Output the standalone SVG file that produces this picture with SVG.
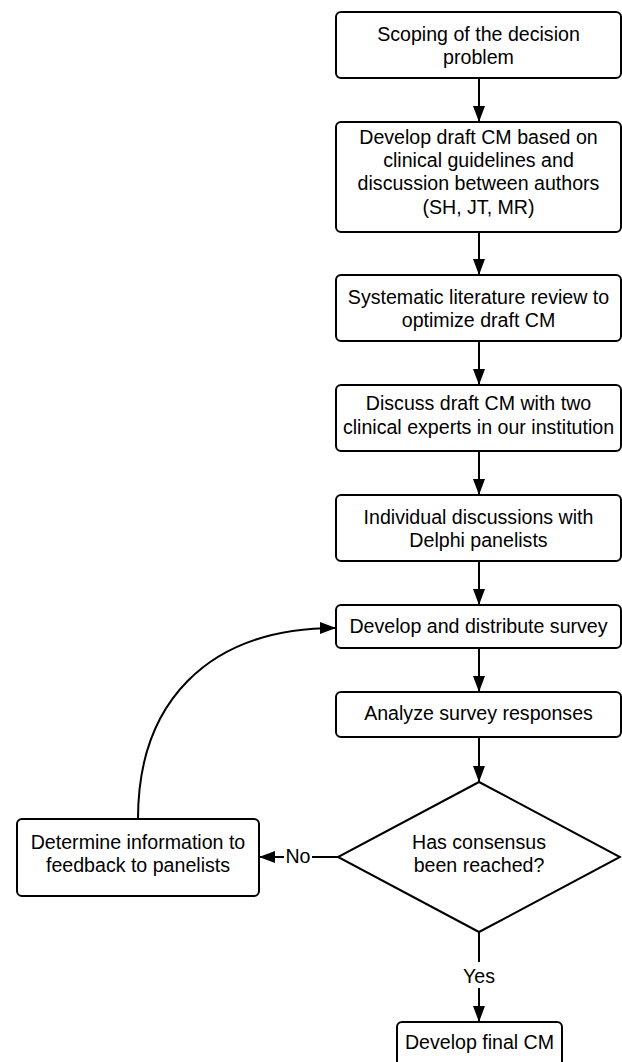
<svg xmlns="http://www.w3.org/2000/svg" width="622" height="1062" viewBox="0 0 622 1062">
<style>
.box{fill:#fff;stroke:#000;stroke-width:2}
.t{font-family:"Liberation Sans",Arial,sans-serif;font-size:19.6px;fill:#000;text-anchor:middle}
.c{fill:none;stroke:#000;stroke-width:2}
</style>
<defs>
<marker id="ah" markerWidth="16" markerHeight="12" refX="16" refY="6" orient="auto" markerUnits="userSpaceOnUse">
<path d="M0,0 L16,6 L0,12 Z" fill="#000"/>
</marker>
</defs>
<rect width="622" height="1062" fill="#fff"/>
<g id="connectors">
<line class="c" x1="479" y1="78" x2="479" y2="122" marker-end="url(#ah)"/>
<line class="c" x1="479" y1="232" x2="479" y2="275" marker-end="url(#ah)"/>
<line class="c" x1="479" y1="341" x2="479" y2="385" marker-end="url(#ah)"/>
<line class="c" x1="479" y1="451" x2="479" y2="495" marker-end="url(#ah)"/>
<line class="c" x1="479" y1="561" x2="479" y2="605" marker-end="url(#ah)"/>
<line class="c" x1="479" y1="648" x2="479" y2="692" marker-end="url(#ah)"/>
<line class="c" x1="479" y1="737" x2="479" y2="782" marker-end="url(#ah)"/>
<line class="c" x1="479" y1="932" x2="479" y2="1022" marker-end="url(#ah)"/>
<line class="c" x1="338" y1="857" x2="259" y2="857" marker-end="url(#ah)"/>
<path class="c" d="M138,819 C138,705 205,628 336,628" marker-end="url(#ah)"/>
<rect x="284" y="845" width="28" height="24" fill="#fff"/>
<text class="t" x="298" y="863">No</text>
<rect x="461" y="962" width="36" height="26" fill="#fff"/>
<text class="t" x="479" y="983">Yes</text>
</g>
<g id="n1"><rect class="box" x="336" y="12" width="285" height="66" rx="5"/>
<text class="t" x="478.5" y="41">Scoping of the decision</text><text class="t" x="478.5" y="64">problem</text></g>
<g id="n2"><rect class="box" x="336" y="122" width="285" height="110" rx="5"/>
<text class="t" x="478.5" y="144">Develop draft CM based on</text><text class="t" x="478.5" y="167">clinical guidelines and</text><text class="t" x="478.5" y="190">discussion between authors</text><text class="t" x="478.5" y="214">(SH, JT, MR)</text></g>
<g id="n3"><rect class="box" x="336" y="275" width="285" height="66" rx="5"/>
<text class="t" x="478.5" y="304">Systematic literature review to</text><text class="t" x="478.5" y="327">optimize draft CM</text></g>
<g id="n4"><rect class="box" x="336" y="385" width="285" height="66" rx="5"/>
<text class="t" x="478.5" y="410">Discuss draft CM with two</text><text class="t" x="478.5" y="434">clinical experts in our institution</text></g>
<g id="n5"><rect class="box" x="336" y="495" width="285" height="66" rx="5"/>
<text class="t" x="478.5" y="524">Individual discussions with</text><text class="t" x="478.5" y="547">Delphi panelists</text></g>
<g id="n6"><rect class="box" x="336" y="605" width="285" height="43" rx="5"/>
<text class="t" x="478.5" y="633">Develop and distribute survey</text></g>
<g id="n7"><rect class="box" x="336" y="692" width="285" height="45" rx="5"/>
<text class="t" x="478.5" y="720">Analyze survey responses</text></g>
<g id="n8"><polygon class="box" points="479,782 620,857 479,932 338,857"/>
<text class="t" x="479" y="849">Has consensus</text><text class="t" x="479" y="872">been reached?</text></g>
<g id="n9"><rect class="box" x="17" y="819" width="242" height="77" rx="5"/>
<text class="t" x="138" y="849">Determine information to</text><text class="t" x="138" y="872">feedback to panelists</text></g>
<g id="n10"><rect class="box" x="397" y="1022" width="165" height="46" rx="5"/>
<text class="t" x="479.5" y="1049">Develop final CM</text></g>
</svg>
